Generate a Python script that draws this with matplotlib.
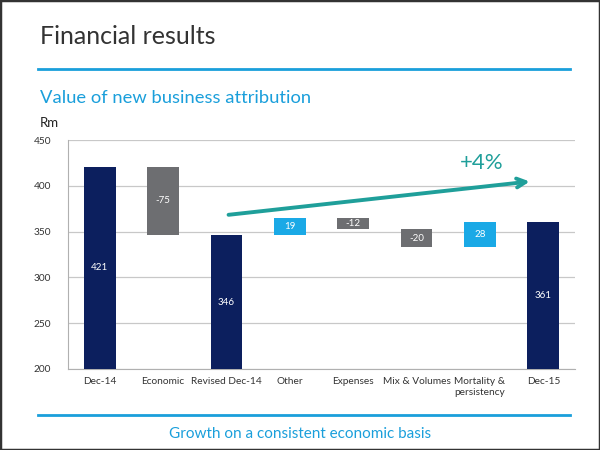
import matplotlib as mpl
mpl.use('Agg')
import matplotlib.pyplot as plt
from matplotlib.patches import Rectangle
import numpy as np

plt.rcParams['font.family'] = ['Lato', 'DejaVu Sans']

# waterfall data (Rm)
categories = ['Dec-14', 'Economic', 'Revised Dec-14', 'Other', 'Expenses',
              'Mix & Volumes', 'Mortality &\npersistency', 'Dec-15']
changes = [421, -75, 346, 19, -12, -20, 28, 361]
isTotal = [True, False, True, False, False, False, False, True]

navy = '#0c1f5e'
grey = '#6d6e71'
cyan = '#1aa9e6'
lineBlue = '#1a9fdb'
teal = '#1f9f9a'

# bottoms / heights
bottoms = []
heights = []
colors = []
running = 0
for val, tot in zip(changes, isTotal):
    if tot:
        running = val
        bottoms.append(200)
        heights.append(val - 200)
        colors.append(navy)
    else:
        start = running
        running = running + val
        bottoms.append(min(start, running))
        heights.append(abs(val))
        colors.append(cyan if val > 0 else grey)

fig = plt.figure(figsize=(6, 4.5), dpi=100)

# slide frame
fig.patches.append(Rectangle((0, 0), 1, 1, transform=fig.transFigure,
                             fill=False, edgecolor='#333333', linewidth=2.5))

fig.text(40 / 600, 1 - 37 / 450, 'Financial results', fontsize=18,
         color='#333333', va='center', ha='left')
fig.add_artist(plt.Line2D([38 / 600, 570 / 600], [1 - 69 / 450, 1 - 69 / 450],
                          transform=fig.transFigure, color=lineBlue, linewidth=2))
fig.text(40 / 600, 1 - 98 / 450, 'Value of new business attribution',
         fontsize=13.2, color=lineBlue, va='center', ha='left')
fig.text(40 / 600, 1 - 123 / 450, 'Rm', fontsize=9.5, color='#222222',
         va='center', ha='left')
fig.add_artist(plt.Line2D([38 / 600, 570 / 600], [1 - 415 / 450, 1 - 415 / 450],
                          transform=fig.transFigure, color=lineBlue, linewidth=2))
fig.text(300 / 600, 1 - 434 / 450, 'Growth on a consistent economic basis',
         fontsize=11, color=lineBlue, va='center', ha='center')

ax = fig.add_axes([68 / 600, 1 - 369 / 450, (575 - 68) / 600, (369 - 140) / 450])
x = np.arange(len(categories))
ax.bar(x, heights, bottom=bottoms, width=0.5, color=colors, zorder=3)

for xi, b, h, val in zip(x, bottoms, heights, changes):
    ax.text(xi, b + h / 2, str(val), color='white', fontsize=7,
            ha='center', va='center', zorder=4)

ax.set_xlim(-0.5, len(categories) - 0.5)
ax.set_ylim(200, 450)
ax.set_yticks(np.arange(200, 451, 50))
ax.set_xticks(x)
ax.set_xticklabels(categories, fontsize=7.3, color='#333333')
ax.tick_params(axis='y', labelsize=7.3, labelcolor='#333333', length=0, pad=12)
ax.tick_params(axis='x', length=0, pad=6)
ax.grid(axis='y', color='#c8c8c8', linewidth=0.9, zorder=0)
for side in ['top', 'right']:
    ax.spines[side].set_visible(False)
ax.spines['left'].set_color('#b0b0b0')
ax.spines['bottom'].set_color('#b0b0b0')

# growth arrow
ax.annotate('', xy=(6.83, 405), xytext=(1.99, 368),
            arrowprops=dict(arrowstyle='->', color=teal, lw=2.8,
                            mutation_scale=16), zorder=5)
ax.text(6.03, 425, '+4%', fontsize=16, color=teal, ha='center', va='center')

fig.savefig('out.png', dpi=100)
